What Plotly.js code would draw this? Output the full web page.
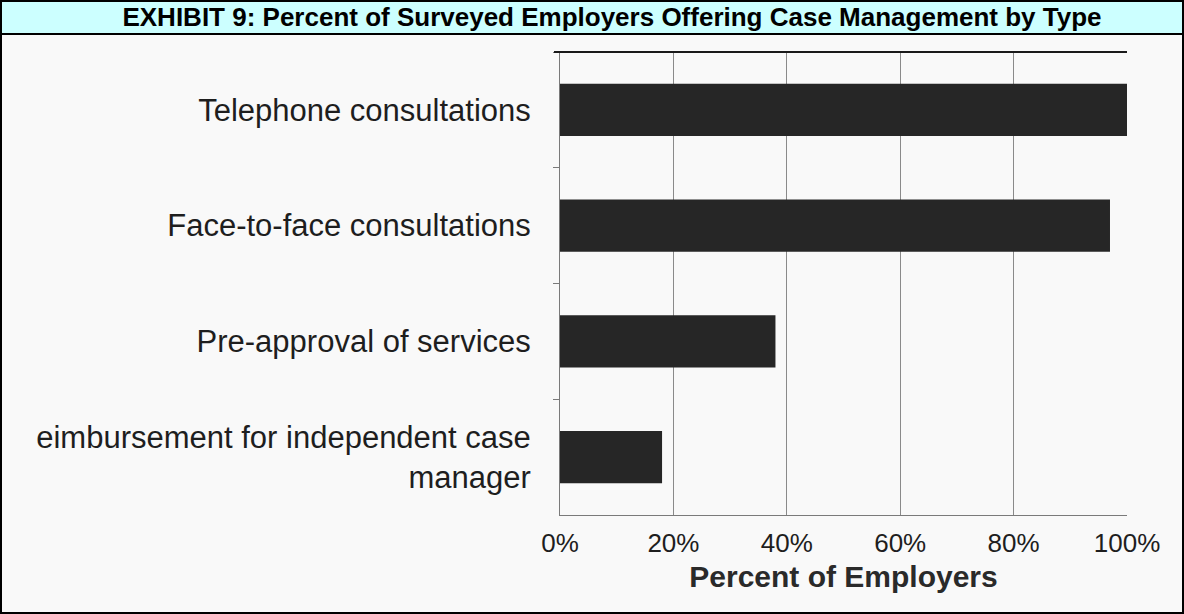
<!DOCTYPE html>
<html>
<head>
<meta charset="utf-8">
<script src="https://cdn.plot.ly/plotly-3.0.1.min.js"></script>
<style>
  html, body { margin: 0; padding: 0; background: #ffffff; }
  #chart { width: 1184px; height: 614px; }
</style>
</head>
<body>
<div id="chart"></div>
<script>
// Data
const categories = [
  "Telephone consultations",
  "Face-to-face consultations",
  "Pre-approval of services",
  "eimbursement for independent case<br>manager"
];
const percentEmployers = [100, 97, 38, 18];
const xTickValues = [0, 20, 40, 60, 80, 100];
const xTickLabels = ["0%", "20%", "40%", "60%", "80%", "100%"];
const chartTitle = "EXHIBIT 9: Percent of Surveyed Employers Offering Case Management by Type";
const xAxisTitle = "Percent of Employers";

// Layout geometry
const W = 1184, H = 614;
const M = { l: 560, r: 57, t: 52, b: 99 };
const pw = W - M.l - M.r, ph = H - M.t - M.b;
const px = v => (v - M.l) / pw;          // figure px -> paper x
const py = v => 1 - (v - M.t) / ph;      // figure px -> paper y
const titleBarBottom = 34;

const trace = {
  type: "bar",
  orientation: "h",
  y: categories,
  x: percentEmployers,
  marker: { color: "#262626", line: { width: 0 } },
  hoverinfo: "x+y"
};

const layout = {
  width: W, height: H,
  margin: M,
  paper_bgcolor: "#f9f9f9",
  plot_bgcolor: "#f9f9f9",
  font: { family: "Liberation Sans, Arial, sans-serif", color: "#1e1e1e" },
  bargap: 0.55,
  showlegend: false,
  title: {
    text: "<b>" + chartTitle + "</b>",
    font: { size: 26, color: "#000000", family: "Liberation Sans, Arial, sans-serif" },
    x: 612 / W, xref: "container", xanchor: "center",
    y: 1 - 17 / H, yref: "container", yanchor: "middle"
  },
  xaxis: {
    range: [0, 100],
    tickvals: xTickValues,
    ticktext: xTickLabels,
    tickfont: { size: 26, color: "#1e1e1e" },
    showgrid: true,
    gridcolor: "#8a8a8a",
    gridwidth: 1,
    zeroline: false,
    showline: true,
    linecolor: "#7a7a7a",
    linewidth: 1,
    ticks: "",
    ticklabelstandoff: 5,
    fixedrange: true,
    title: {
      text: "<b>" + xAxisTitle + "</b>",
      font: { size: 30, color: "#2a2a2a" },
      standoff: 8
    }
  },
  yaxis: {
    type: "category",
    autorange: "reversed",
    tickson: "boundaries",
    ticks: "outside",
    ticklen: 6,
    tickcolor: "#7a7a7a",
    tickfont: { size: 31, color: "#1e1e1e" },
    ticklabelstandoff: 22,
    showline: true,
    linecolor: "#7a7a7a",
    linewidth: 1,
    showgrid: false,
    zeroline: false,
    fixedrange: true
  },
  shapes: [
    // title bar
    { type: "rect", xref: "paper", yref: "paper",
      x0: px(0), x1: px(W), y0: py(titleBarBottom), y1: py(0),
      fillcolor: "#ccffff", line: { width: 0 }, layer: "below" },
    { type: "line", xref: "paper", yref: "paper",
      x0: px(0), x1: px(W), y0: py(titleBarBottom), y1: py(titleBarBottom),
      line: { color: "#000000", width: 2 } },
    // outer frame
    { type: "rect", xref: "paper", yref: "paper",
      x0: px(1), x1: px(W - 1), y0: py(H - 1), y1: py(1),
      line: { color: "#000000", width: 2 }, fillcolor: "rgba(0,0,0,0)" },
    // heavy line at top of plot
    { type: "line", xref: "paper", yref: "paper",
      x0: px(554), x1: 1, y0: 1, y1: 1,
      line: { color: "#1a1a1a", width: 2 } }
  ]
};

Plotly.newPlot("chart", [trace], layout, { displayModeBar: false, staticPlot: true });
</script>
</body>
</html>
